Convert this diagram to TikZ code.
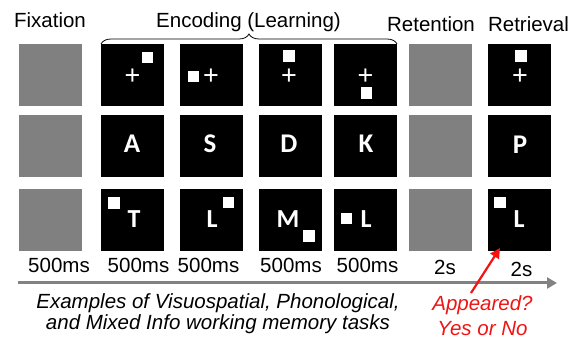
\documentclass[tikz,border=0pt]{standalone}
\usepackage{fontspec}
\setmainfont{Liberation Sans}
\newfontfamily\calib{Carlito}
\usetikzlibrary{decorations.pathreplacing,arrows.meta}
\definecolor{boxgray}{RGB}{128,128,128}
\definecolor{arrgray}{RGB}{130,130,130}
\definecolor{ansred}{RGB}{240,20,20}
\begin{document}
\begin{tikzpicture}[x=1pt,y=-1pt,
  blk/.style={fill=black,minimum width=63pt,minimum height=62pt,inner sep=0pt,outer sep=0pt},
  gry/.style={fill=boxgray,minimum width=63pt,minimum height=62pt,inner sep=0pt,outer sep=0pt},
  sq/.style={fill=white,minimum size=11.5pt,inner sep=0pt},
  crs/.style={text=white,inner sep=0pt,font=\fontsize{27}{27}\selectfont},
  ltrA/.style={text=white,inner sep=0pt,anchor=base,font=\calib\bfseries\fontsize{27}{27}\selectfont},
  ltrB/.style={text=white,inner sep=0pt,anchor=base,font=\calib\bfseries\fontsize{26}{26}\selectfont},
  head/.style={inner sep=0pt,anchor=base,font=\fontsize{20.5}{24}\selectfont},
  tlab/.style={inner sep=0pt,anchor=base,font=\fontsize{20.5}{24}\selectfont},
  capt/.style={inner sep=0pt,anchor=base,font=\itshape\fontsize{20.5}{21}\selectfont},
  anstxt/.style={inner sep=0pt,anchor=base,text=ansred,font=\itshape\fontsize{20.5}{25}\selectfont}
]
\useasboundingbox (0,0) rectangle (579,339);
% headings
\node[head] (hfix) at (50,28) {Fixation};
\node[head] (henc) at (248.5,28) {Encoding (Learning)};
\node[head] (hret) at (431,32) {Retention};
\node[head] (hrtv) at (528.5,32) {Retrieval};
\draw[line width=0.8pt,decorate,decoration={brace,amplitude=10pt}] (101,44) -- (397,44);
% row 1
\node[gry] (b11) at (50.5,75.5) {};
\node[blk] (b12) at (132.5,75.5) {};
\node[blk] (b13) at (211.5,75.5) {};
\node[blk] (b14) at (290,75.5) {};
\node[blk] (b15) at (365.5,75.5) {};
\node[gry] (b16) at (440,75.5) {};
\node[blk] (b17) at (519,75.5) {};
% row 2
\node[gry] (b21) at (50.5,146) {};
\node[blk] (b22) at (132.5,146) {};
\node[blk] (b23) at (211.5,146) {};
\node[blk] (b24) at (290,146) {};
\node[blk] (b25) at (365.5,146) {};
\node[gry] (b26) at (440,146) {};
\node[blk] (b27) at (519,146) {};
% row 3
\node[gry] (b31) at (50.5,220) {};
\node[blk] (b32) at (132.5,220) {};
\node[blk] (b33) at (211.5,220) {};
\node[blk] (b34) at (290,220) {};
\node[blk] (b35) at (365.5,220) {};
\node[gry] (b36) at (440,220) {};
\node[blk] (b37) at (519,220) {};
% row 1 contents
\node[crs] (c12) at (132.5,77) {+};
\node[sq] (s12) at (147.5,57.5) {};
\node[sq] (s13) at (193.5,76.5) {};
\node[crs] (c13) at (211,77) {+};
\node[sq] (s14) at (289,56) {};
\node[crs] (c14) at (289,77) {+};
\node[crs] (c15) at (365.5,77) {+};
\node[sq] (s15) at (366.5,93) {};
\node[sq] (s17) at (521,56) {};
\node[crs] (c17) at (520,77) {+};
% row 2 contents
\node[ltrA] (l22) at (132,153) {A};
\node[ltrA] (l23) at (210,153) {S};
\node[ltrA] (l24) at (289,153) {D};
\node[ltrA] (l25) at (366,153) {K};
\node[ltrA] (l27) at (520,154) {P};
% row 3 contents
\node[sq] (s32) at (114,203) {};
\node[ltrB] (l32) at (134,228) {T};
\node[ltrB] (l33) at (212,228) {L};
\node[sq] (s33) at (228.5,202.5) {};
\node[ltrB] (l34) at (288,228) {M};
\node[sq] (s34) at (309,236) {};
\node[sq] (s35) at (346.5,218.5) {};
\node[ltrB] (l35) at (366,228) {L};
\node[sq] (s37) at (500,202.5) {};
\node[ltrB] (l37) at (519,228) {L};
% time labels
\node[tlab] (t1) at (59,273) {500ms};
\node[tlab] (t2) at (138.5,273) {500ms};
\node[tlab] (t3) at (208.5,273) {500ms};
\node[tlab] (t4) at (291,273) {500ms};
\node[tlab] (t5) at (367.5,273) {500ms};
\node[tlab] (t6) at (445,275) {2s};
\node[tlab] (t7) at (521.5,277) {2s};
% timeline arrow
\coordinate (ta) at (18,283);
\coordinate (tb) at (557,283);
\draw[arrgray,line width=3pt,-{Triangle[length=10pt,width=11pt]}] (ta) -- (tb);
% captions
\node[capt] (cap1) at (218,309) {Examples of Visuospatial, Phonological,};
\node[capt] (cap2) at (218,330) {and Mixed Info working memory tasks};
\node[anstxt] (ans1) at (482.5,311) {Appeared?};
\node[anstxt] (ans2) at (482.5,336) {Yes or No};
\coordinate (ra) at (471,293);
\coordinate (rb) at (500,248);
\draw[ansred,line width=2.2pt,-{Triangle[length=10pt,width=10pt]}] (ra) -- (rb);
\end{tikzpicture}
\end{document}
